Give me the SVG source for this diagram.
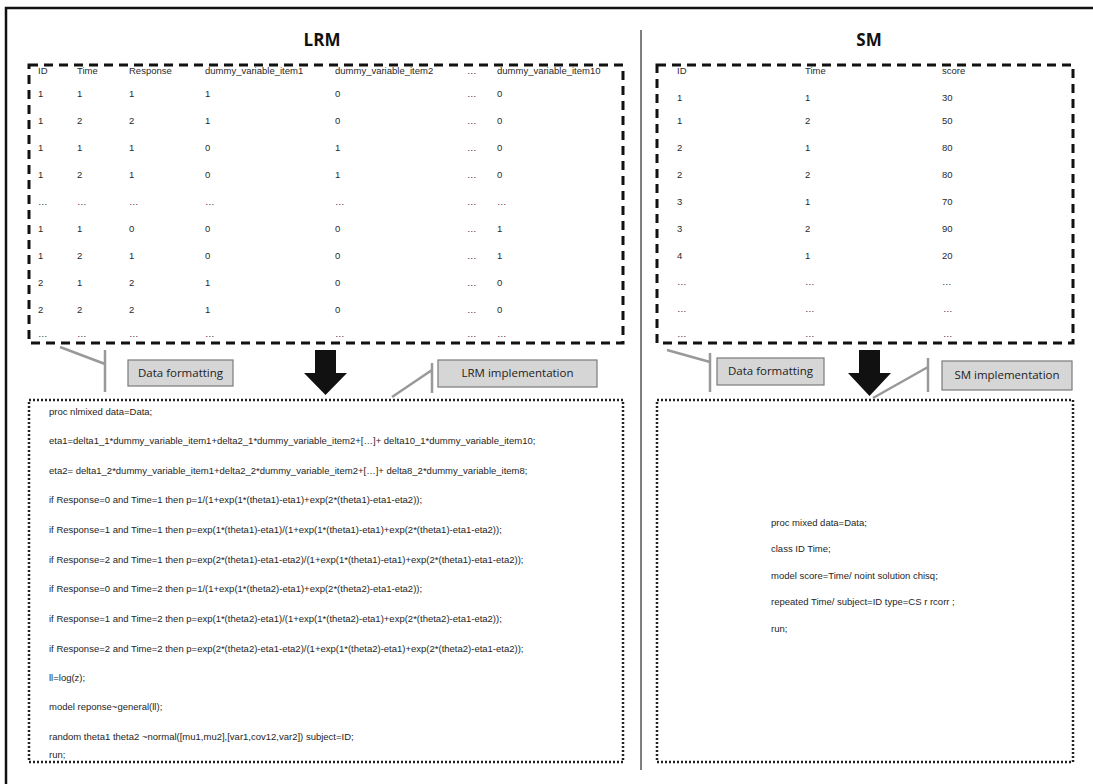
<svg xmlns="http://www.w3.org/2000/svg" width="1093" height="784" viewBox="0 0 1093 784">
<style>
.t{font-family:"Liberation Sans",Arial,sans-serif;font-size:9.5px;fill:#2a2a2a}
.c{font-family:"Liberation Sans",Arial,sans-serif;font-size:9.5px;fill:#1e1e1e}
.h{font-family:"Open Sans","Liberation Sans",sans-serif;font-size:17px;font-weight:bold;fill:#111;text-anchor:middle}
.lb{font-family:"Open Sans","Liberation Sans",sans-serif;font-size:11.5px;fill:#222;text-anchor:middle}
.dash{fill:none;stroke:#111;stroke-width:3;stroke-dasharray:9 6}
.dot{fill:none;stroke:#222;stroke-width:2.5;stroke-dasharray:2 2}
.box{fill:#d6d6d6;stroke:#7a7a7a;stroke-width:1.2}
.call{fill:none;stroke:#999;stroke-width:2.5}
.arrow{fill:#111}
</style>
<rect x="0" y="0" width="1093" height="784" fill="#fff"/>
<rect x="6" y="8" width="1100" height="800" fill="none" stroke="#111" stroke-width="2.5"/>
<line x1="641" y1="30" x2="641" y2="770" stroke="#555" stroke-width="1.5"/>
<text class="h" x="322" y="46">LRM</text>
<text class="h" x="869" y="46">SM</text>

<g id="lrm-table">
<rect class="dash" x="29" y="65" width="594" height="278"/>
<g class="t">
<text y="74"><tspan x="38">ID</tspan><tspan x="77">Time</tspan><tspan x="129">Response</tspan><tspan x="205">dummy_variable_item1</tspan><tspan x="335">dummy_variable_item2</tspan><tspan x="467">…</tspan><tspan x="497">dummy_variable_item10</tspan></text>
<text y="97"><tspan x="38">1</tspan><tspan x="77">1</tspan><tspan x="129">1</tspan><tspan x="205">1</tspan><tspan x="335">0</tspan><tspan x="467">…</tspan><tspan x="497">0</tspan></text>
<text y="124"><tspan x="38">1</tspan><tspan x="77">2</tspan><tspan x="129">2</tspan><tspan x="205">1</tspan><tspan x="335">0</tspan><tspan x="467">…</tspan><tspan x="497">0</tspan></text>
<text y="151"><tspan x="38">1</tspan><tspan x="77">1</tspan><tspan x="129">1</tspan><tspan x="205">0</tspan><tspan x="335">1</tspan><tspan x="467">…</tspan><tspan x="497">0</tspan></text>
<text y="178"><tspan x="38">1</tspan><tspan x="77">2</tspan><tspan x="129">1</tspan><tspan x="205">0</tspan><tspan x="335">1</tspan><tspan x="467">…</tspan><tspan x="497">0</tspan></text>
<text y="205"><tspan x="38">…</tspan><tspan x="77">…</tspan><tspan x="129">…</tspan><tspan x="205">…</tspan><tspan x="335">…</tspan><tspan x="467">…</tspan><tspan x="497">…</tspan></text>
<text y="232"><tspan x="38">1</tspan><tspan x="77">1</tspan><tspan x="129">0</tspan><tspan x="205">0</tspan><tspan x="335">0</tspan><tspan x="467">…</tspan><tspan x="497">1</tspan></text>
<text y="259"><tspan x="38">1</tspan><tspan x="77">2</tspan><tspan x="129">1</tspan><tspan x="205">0</tspan><tspan x="335">0</tspan><tspan x="467">…</tspan><tspan x="497">1</tspan></text>
<text y="286"><tspan x="38">2</tspan><tspan x="77">1</tspan><tspan x="129">2</tspan><tspan x="205">1</tspan><tspan x="335">0</tspan><tspan x="467">…</tspan><tspan x="497">0</tspan></text>
<text y="313"><tspan x="38">2</tspan><tspan x="77">2</tspan><tspan x="129">2</tspan><tspan x="205">1</tspan><tspan x="335">0</tspan><tspan x="467">…</tspan><tspan x="497">0</tspan></text>
<text y="337"><tspan x="38">…</tspan><tspan x="77">…</tspan><tspan x="129">…</tspan><tspan x="205">…</tspan><tspan x="335">…</tspan><tspan x="467">…</tspan><tspan x="497">…</tspan></text>
</g>
</g>

<g id="sm-table">
<rect class="dash" x="657" y="65" width="416" height="278"/>
<g class="t">
<text y="74"><tspan x="677">ID</tspan><tspan x="805">Time</tspan><tspan x="942">score</tspan></text>
<text y="101"><tspan x="677">1</tspan><tspan x="805">1</tspan><tspan x="942">30</tspan></text>
<text y="124"><tspan x="677">1</tspan><tspan x="805">2</tspan><tspan x="942">50</tspan></text>
<text y="151"><tspan x="677">2</tspan><tspan x="805">1</tspan><tspan x="942">80</tspan></text>
<text y="178"><tspan x="677">2</tspan><tspan x="805">2</tspan><tspan x="942">80</tspan></text>
<text y="205"><tspan x="677">3</tspan><tspan x="805">1</tspan><tspan x="942">70</tspan></text>
<text y="232"><tspan x="677">3</tspan><tspan x="805">2</tspan><tspan x="942">90</tspan></text>
<text y="259"><tspan x="677">4</tspan><tspan x="805">1</tspan><tspan x="942">20</tspan></text>
<text y="285"><tspan x="677">…</tspan><tspan x="805">…</tspan><tspan x="942">…</tspan></text>
<text y="312"><tspan x="677">…</tspan><tspan x="805">…</tspan><tspan x="943">…</tspan></text>
<text y="337"><tspan x="677">…</tspan><tspan x="805">…</tspan><tspan x="943">…</tspan></text>
</g>
</g>

<g id="lrm-code">
<rect class="dot" x="29" y="400" width="594" height="362"/>
<g class="c">
<text x="49" y="415">proc nlmixed data=Data;</text>
<text x="49" y="444">eta1=delta1_1*dummy_variable_item1+delta2_1*dummy_variable_item2+[…]+ delta10_1*dummy_variable_item10;</text>
<text x="49" y="474">eta2= delta1_2*dummy_variable_item1+delta2_2*dummy_variable_item2+[…]+ delta8_2*dummy_variable_item8;</text>
<text x="49" y="503">if Response=0 and Time=1 then p=1/(1+exp(1*(theta1)-eta1)+exp(2*(theta1)-eta1-eta2));</text>
<text x="49" y="533">if Response=1 and Time=1 then p=exp(1*(theta1)-eta1)/(1+exp(1*(theta1)-eta1)+exp(2*(theta1)-eta1-eta2));</text>
<text x="49" y="563">if Response=2 and Time=1 then p=exp(2*(theta1)-eta1-eta2)/(1+exp(1*(theta1)-eta1)+exp(2*(theta1)-eta1-eta2));</text>
<text x="49" y="592">if Response=0 and Time=2 then p=1/(1+exp(1*(theta2)-eta1)+exp(2*(theta2)-eta1-eta2));</text>
<text x="49" y="622">if Response=1 and Time=2 then p=exp(1*(theta2)-eta1)/(1+exp(1*(theta2)-eta1)+exp(2*(theta2)-eta1-eta2));</text>
<text x="49" y="652">if Response=2 and Time=2 then p=exp(2*(theta2)-eta1-eta2)/(1+exp(1*(theta2)-eta1)+exp(2*(theta2)-eta1-eta2));</text>
<text x="49" y="681">ll=log(z);</text>
<text x="49" y="710">model reponse~general(ll);</text>
<text x="49" y="740">random theta1 theta2 ~normal([mu1,mu2],[var1,cov12,var2]) subject=ID;</text>
<text x="49" y="758">run;</text>
</g>
</g>

<g id="sm-code">
<rect class="dot" x="657" y="400" width="416" height="362"/>
<g class="c">
<text x="771" y="526">proc mixed data=Data;</text>
<text x="771" y="552">class ID Time;</text>
<text x="771" y="579">model score=Time/ noint solution chisq;</text>
<text x="771" y="605">repeated Time/ subject=ID type=CS  r rcorr ;</text>
<text x="771" y="632">run;</text>
</g>
</g>

<g id="lrm-data-formatting">
<rect class="box" x="128" y="360" width="105" height="26"/>
<text class="lb" x="180.5" y="377">Data formatting</text>
</g>
<g id="lrm-implementation">
<rect class="box" x="438" y="360" width="159" height="27"/>
<text class="lb" x="517.5" y="377">LRM implementation</text>
</g>
<g id="sm-data-formatting">
<rect class="box" x="717" y="358" width="107" height="27"/>
<text class="lb" x="770.5" y="375">Data formatting</text>
</g>
<g id="sm-implementation">
<rect class="box" x="942" y="361" width="130" height="29"/>
<text class="lb" x="1007" y="379">SM implementation</text>
</g>

<g id="connectors">
<path class="call" d="M60 347 L105 364 M105 350 V392"/>
<path class="call" d="M392 397 L432 370 M432 363 V393"/>
<path class="call" d="M667 350 L710 362 M710 353 V392"/>
<path class="call" d="M873 398 L928 367 M928 358 V392"/>
<path class="arrow" d="M315 350 H336 V373 H347 L325.5 395 L304 373 H315 Z"/>
<path class="arrow" d="M859 350 H880 V373 H891 L869.5 396 L848 373 H859 Z"/>
</g>
</svg>
